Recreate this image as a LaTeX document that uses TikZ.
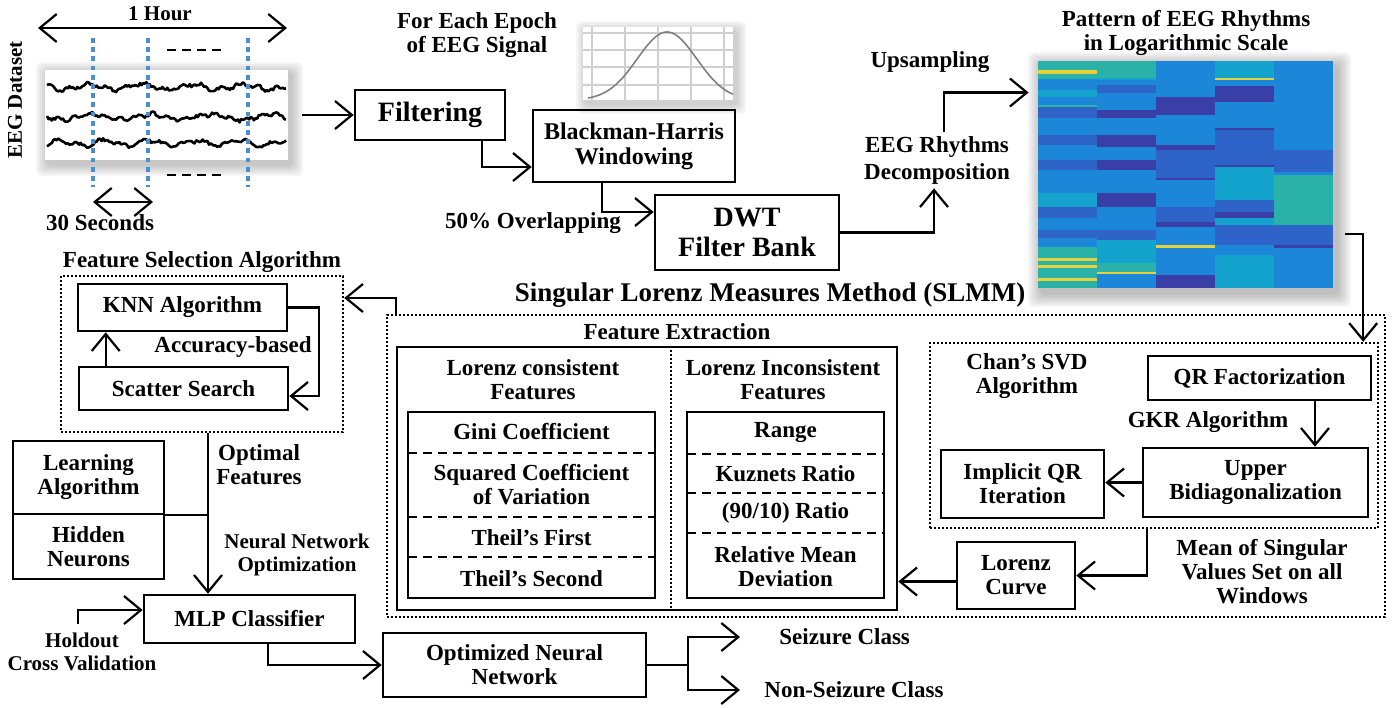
\documentclass[tikz,border=0pt]{standalone}
\usepackage{fontspec}
\setmainfont{Liberation Serif}
\usetikzlibrary{positioning, arrows.meta, calc}
\definecolor{eegblue}{HTML}{4A90D0}
\definecolor{pA}{HTML}{3A3FA8}
\definecolor{pB}{HTML}{2E64C8}
\definecolor{pC}{HTML}{1C86D8}
\definecolor{pD}{HTML}{14A3CC}
\definecolor{pE}{HTML}{2BB2A8}
\definecolor{pF}{HTML}{E4D23C}
\definecolor{gridgray}{HTML}{D0D0D0}
\newcommand{\basefs}{\bfseries\fontsize{11.5}{12}\selectfont}
\newcommand{\smallfs}{\bfseries\fontsize{10.5}{11.5}\selectfont}
\newcommand{\bigfs}{\bfseries\fontsize{14}{15}\selectfont}

\begin{document}
\begin{tikzpicture}[x=0.5pt, y=-0.5pt,
    every node/.style={align=center, font=\basefs, inner sep=2pt},
    box/.style={draw, line width=1.3pt},
    dotbox/.style={draw, line width=1.2pt, dash pattern=on 1pt off 1pt},
    cell/.style={inner sep=0pt, anchor=north},
    sepline/.style={line width=1pt, dash pattern=on 4.5pt off 3pt},
    arr/.style={line width=1.1pt, -{Straight Barb[length=8.5pt, width=14pt]}},
    link/.style={line width=1.1pt},
    dbl/.style={line width=1.1pt, {Straight Barb[length=8.5pt, width=14pt]}-{Straight Barb[length=8.5pt, width=14pt]}},
    epoch/.style={eegblue, line width=2.4pt, dash pattern=on 2.4pt off 2.2pt},
    wave/.style={line width=1.3pt, line join=round},
    softshadow/.style={black, opacity=0.04}]

  \useasboundingbox (0,0) rectangle (1400,707);

  % EEG recording
  \foreach \s in {1,...,6}
    \fill[softshadow, rounded corners=3pt] ({45-2*\s+3},{70-2*\s+4}) rectangle ({288+2*\s+3},{160+2*\s+4});
  \fill[white] (45,70) rectangle (288,160);
  \pgfmathsetseed{11}
  \draw[wave] plot[domain=47:286, samples=150] (\x, {87+2.5*sin(7*\x)+1.5*sin(19*\x+40)+1.6*rand});
  \draw[wave] plot[domain=47:286, samples=150] (\x, {117+2.5*sin(6*\x+80)+1.5*sin(23*\x)+1.6*rand});
  \draw[wave] plot[domain=47:286, samples=150] (\x, {143+2.5*sin(8*\x+150)+1.5*sin(17*\x+10)+1.6*rand});
  \foreach \ex in {93,148,248}
    \draw[epoch] (\ex,38) -- (\ex,187);
  \draw[sepline, line width=1.2pt] (167,50) -- (223,50);
  \draw[sepline, line width=1.2pt] (167,175) -- (223,175);
  \node[minimum width=121.5pt, minimum height=45pt, inner sep=0pt] (eeg) at (166.5,115) {};
  \node[font=\smallfs, rotate=90] (eegdata) at (15,100) {EEG Dataset};
  \coordinate (hourL) at (38,28);
  \coordinate (hourR) at (287,28);
  \draw[dbl] (hourL) -- (hourR);
  \node[font=\smallfs] (hour) at (160,14) {1 Hour};
  \coordinate (secL) at (93,202);
  \coordinate (secR) at (153,202);
  \draw[dbl] (secL) -- (secR);
  \node (seconds) at (100,223) {30 Seconds};

  % window plot
  \foreach \s in {1,...,5}
    \fill[softshadow, rounded corners=3pt] ({583-2*\s+3},{27-2*\s+4}) rectangle ({733+2*\s+3},{100+2*\s+4});
  \fill[white] (583,27) rectangle (733,100);
  \foreach \gx in {592,625,658,691,724}
    \draw[gridgray, line width=0.6pt] (\gx,27) -- (\gx,100);
  \foreach \gy in {33,50,67,85}
    \draw[gridgray, line width=0.6pt] (583,\gy) -- (733,\gy);
  \draw[gray, line width=0.8pt] plot[domain=588:733, samples=80] (\x, {100-68*exp(-((\x-667)/42)^2)});
  \node (epochlbl) at (477,35) {For Each Epoch\\of EEG Signal};

  % preprocessing chain
  \node[box, font=\bigfs, minimum width=75pt, minimum height=25pt] (filter) at (430,115) {Filtering};
  \node[box, font=\bfseries\fontsize{12}{12.5}\selectfont, minimum width=101pt, minimum height=36pt] (blackman) at (634,146) {Blackman-Harris\\Windowing};
  \node[box, font=\bigfs, minimum width=92pt, minimum height=37.5pt] (dwt) at (747,232.5) {DWT\\Filter Bank};
  \node (overlap) at (533,223) {50\% Overlapping};
  \node (upsamp) at (930,62) {Upsampling};
  \node (decomp) at (937,160) {EEG Rhythms\\[1.5pt]Decomposition};

  % rhythm pattern
  \foreach \s in {1,...,7}
    \fill[softshadow, rounded corners=3pt] ({1038-2*\s+4},{61-2*\s+5}) rectangle ({1333+2*\s+4},{288+2*\s+5});
  \fill[pC] (1038,61) rectangle (1333,288);
  \foreach \ya/\yb/\col in {61/70/pE, 70/74/pF, 74/79/pE, 79/90/pC, 90/97/pD, 97/105/pC, 105/107/pE, 107/118/pB, 118/135/pC, 135/145/pB, 145/160/pC, 160/170/pB, 170/193/pC, 193/207/pD, 207/218/pB, 218/230/pC, 230/238/pB, 238/247/pC, 247/258/pE, 258/261/pF, 261/265/pE, 265/268/pF, 268/278/pE, 278/281/pF, 281/288/pE}
    \fill[\col] (1038,\ya) rectangle (1097,\yb);
  \foreach \ya/\yb/\col in {61/78/pE, 78/80/pD, 80/85/pC, 85/93/pB, 93/110/pC, 110/118/pA, 118/135/pC, 135/147/pA, 147/160/pC, 160/170/pA, 170/193/pC, 193/207/pA, 207/230/pC, 230/240/pB, 240/263/pD, 263/272/pE, 272/274/pF, 274/288/pC}
    \fill[\col] (1097,\ya) rectangle (1156,\yb);
  \foreach \ya/\yb/\col in {61/97/pC, 97/115/pA, 115/145/pC, 145/150/pA, 150/178/pB, 178/180/pA, 180/207/pC, 207/222/pB, 222/227/pA, 227/245/pC, 245/248/pF, 248/275/pC, 275/288/pA}
    \fill[\col] (1156,\ya) rectangle (1215,\yb);
  \foreach \ya/\yb/\col in {61/78/pD, 78/80/pF, 80/86/pC, 86/102/pA, 102/128/pC, 128/130/pA, 130/165/pB, 165/167/pA, 167/200/pD, 200/212/pB, 212/218/pA, 218/225/pD, 225/245/pB, 245/255/pC, 255/288/pD}
    \fill[\col] (1215,\ya) rectangle (1274,\yb);
  \foreach \ya/\yb/\col in {61/150/pC, 150/153/pB, 153/172/pB, 172/175/pC, 175/225/pE, 225/245/pB, 245/248/pA, 248/288/pC}
    \fill[\col] (1274,\ya) rectangle (1333,\yb);
  \node[minimum width=147.5pt, minimum height=113.5pt, inner sep=0pt] (heat) at (1185.5,174.5) {};
  \node (heattitle) at (1186,33) {Pattern of EEG Rhythms\\in Logarithmic Scale};

  % feature selection
  \node[dotbox, minimum width=141pt, minimum height=78pt] (fsbox) at (202,354) {};
  \node (fstitle) at (202,262) {Feature Selection Algorithm};
  \node[box, minimum width=104.5pt, minimum height=23.5pt] (knn) at (182.5,307.5) {KNN Algorithm};
  \node[box, minimum width=104.5pt, minimum height=21.5pt] (scatter) at (183.5,388.5) {Scatter Search};
  \node (accbased) at (233,347) {Accuracy-based};

  % classifier
  \node[box, minimum width=75.5pt, minimum height=36.5pt] (learn) at (88.5,477.5) {Learning\\Algorithm};
  \node[box, minimum width=75.5pt, minimum height=32.5pt] (hidden) at (88.5,546.5) {Hidden\\Neurons};
  \node (optfeat) at (259,465) {Optimal\\Features};
  \node[font=\smallfs] (nnopt) at (297,555) {Neural Network\\Optimization};
  \node[box, minimum width=105.5pt, minimum height=24pt] (mlp) at (249.5,619) {MLP Classifier};
  \node[font=\smallfs] (holdout) at (82,652) {Holdout\\Cross Validation};
  \node[box, minimum width=131.5pt, minimum height=32pt] (optnn) at (514.5,665) {Optimized Neural\\Network};
  \node[anchor=west, inner sep=0pt] (seizure) at (779,637) {Seizure Class};
  \node[anchor=west, inner sep=0pt] (nonseizure) at (764,690) {Non-Seizure Class};

  % SLMM
  \node[dotbox, minimum width=499pt, minimum height=151pt] (slmm) at (886,466) {};
  \node[font=\bfseries\fontsize{13.5}{14}\selectfont] (slmmtitle) at (770,295) {Singular Lorenz Measures Method (SLMM)};
  \node (fexttitle) at (677,332) {Feature Extraction};
  \node[box, minimum width=250pt, minimum height=131.5pt] (fext) at (647,478.5) {};
  \draw[dotbox] ([xshift=12pt]fext.north) -- ([xshift=12pt]fext.south);
  \node (conshead) at (533,380) {Lorenz consistent\\Features};
  \node (inconshead) at (783,380) {Lorenz Inconsistent\\Features};

  \node[box, minimum width=123.5pt, minimum height=93pt] (cons) at (531.5,505) {};
  \node[cell, minimum width=123.5pt, minimum height=20.5pt] (gini) at (cons.north) {Gini Coefficient};
  \node[cell, minimum width=123.5pt, minimum height=32pt, below=0pt of gini] (sqcv) {Squared Coefficient\\of Variation};
  \node[cell, minimum width=123.5pt, minimum height=19.5pt, below=0pt of sqcv] (theilone) {Theil's First};
  \node[cell, minimum width=123.5pt, minimum height=21pt, below=0pt of theilone] (theiltwo) {Theil's Second};
  \draw[sepline] (gini.south west) -- (gini.south east);
  \draw[sepline] (sqcv.south west) -- (sqcv.south east);
  \draw[sepline] (theilone.south west) -- (theilone.south east);

  \node[box, minimum width=98.5pt, minimum height=93pt] (incons) at (785.5,505) {};
  \node[cell, minimum width=98.5pt, minimum height=21pt] (range) at (incons.north) {Range};
  \node[cell, minimum width=98.5pt, minimum height=19.5pt, below=0pt of range] (kuznets) {Kuznets Ratio};
  \node[cell, minimum width=98.5pt, minimum height=19.5pt, below=0pt of kuznets] (ratio) {(90/10) Ratio};
  \node[cell, minimum width=98.5pt, minimum height=33pt, below=0pt of ratio] (relmean) {Relative Mean\\Deviation};
  \draw[sepline] (range.south west) -- (range.south east);
  \draw[sepline] (kuznets.south west) -- (kuznets.south east);
  \draw[sepline] (ratio.south west) -- (ratio.south east);

  \node[dotbox, minimum width=224pt, minimum height=92.5pt] (chan) at (1154,435.5) {};
  \node (chantitle) at (1027,376) {Chan's SVD\\Algorithm};
  \node[box, minimum width=111.5pt, minimum height=22pt] (qr) at (1259.5,378) {QR Factorization};
  \node (gkr) at (1208,422) {GKR Algorithm};
  \node[box, minimum width=112.5pt, minimum height=34.5pt] (upper) at (1255.5,482.5) {Upper\\Bidiagonalization};
  \node[box, minimum width=81.5pt, minimum height=34pt] (implicit) at (1022.5,484) {Implicit QR\\Iteration};
  \node[box, minimum width=59pt, minimum height=33.5pt] (lorenz) at (1016,575.5) {Lorenz\\Curve};
  \node (meansv) at (1262,572) {Mean of Singular\\Values Set on all\\Windows};

  % connectors
  \draw[arr] ([xshift=7pt]eeg.east) -- (filter.west);
  \draw[arr] ([xshift=26pt]filter.south) |- ([yshift=-10.5pt]blackman.west);
  \draw[arr] ([xshift=35pt]blackman.south west) |- ([yshift=10.25pt]dwt.west);
  \draw[arr] (dwt.east) -| ([xshift=-1.5pt]decomp.south);
  \draw[arr, shorten >=4.5pt] ([xshift=3.5pt]decomp.north) |- ([yshift=41pt]heat.west);
  \draw[arr] ([xshift=6pt,yshift=-29.75pt]heat.east) -| ([xshift=-8pt]chan.north east);
  \draw[arr] ([xshift=27.75pt]qr.south) -- ([xshift=27.75pt]qr.south |- upper.north);
  \draw[arr] (upper.west) -- (upper.west -| implicit.east);
  \draw[arr] ([xshift=-3.5pt]chan.south) |- (lorenz.east);
  \draw[arr] ([yshift=-3pt]lorenz.west) -- ([yshift=-3pt]lorenz.west -| fext.east);
  \draw[arr] ([xshift=5pt]slmm.north west) |- ([yshift=28pt]fsbox.east);
  \draw[arr] (knn.east) -- ++(15.5pt,0) |- ([yshift=-3.75pt]scatter.east);
  \draw[arr] ([xshift=14pt]scatter.north west) -- ([xshift=14pt]scatter.north west |- knn.south);
  \coordinate (fsout) at ([xshift=3pt]fsbox.south);
  \draw[arr] (fsout) -- (fsout |- mlp.north);
  \draw[link] (learn.south east) -- (learn.south east -| fsout);
  \draw[arr] ([xshift=-2pt,yshift=2.5pt]holdout.north) |- ([yshift=4.5pt]mlp.west);
  \draw[arr] ([xshift=62.5pt]mlp.south west) |- (optnn.west);
  \draw[link] (optnn.east) -- ++(20.5pt,0) coordinate (split);
  \draw[arr] (split) |- ([xshift=-19.5pt]seizure.west);
  \draw[arr] (split) |- ([xshift=-12pt]nonseizure.west);
\end{tikzpicture}
\end{document}
